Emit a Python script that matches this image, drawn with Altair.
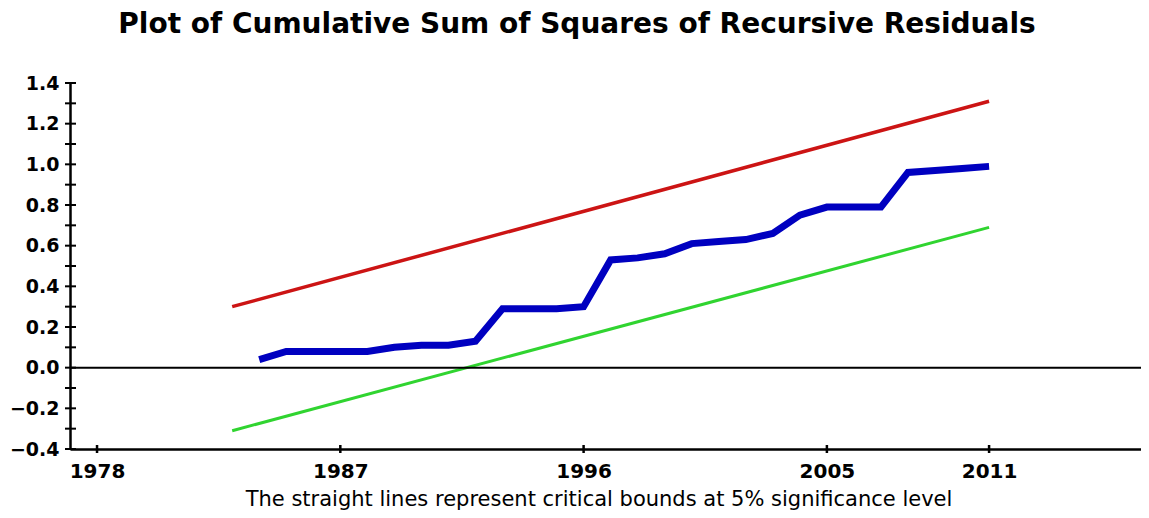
import altair as alt
import pandas as pd

# ---- data ----
blue_years = list(range(1984, 2012))
blue_values = [0.04, 0.08, 0.08, 0.08, 0.08, 0.10, 0.11, 0.11, 0.13, 0.29,
               0.29, 0.29, 0.30, 0.53, 0.54, 0.56, 0.61, 0.62, 0.63, 0.66,
               0.75, 0.79, 0.79, 0.79, 0.96, 0.97, 0.98, 0.99]
upper_years = [1983, 2011]
upper_values = [0.30, 1.31]
lower_years = [1983, 2011]
lower_values = [-0.31, 0.69]

x_tick_years = [1978, 1987, 1996, 2005, 2011]
y_label_values = [-0.4, -0.2, 0.0, 0.2, 0.4, 0.6, 0.8, 1.0, 1.2, 1.4]
y_tick_values = [-0.4, -0.3, -0.2, -0.1, 0.0, 0.1, 0.2, 0.3, 0.4, 0.5, 0.6,
                 0.7, 0.8, 0.9, 1.0, 1.1, 1.2, 1.3, 1.4]

title_text = "Plot of Cumulative Sum of Squares of Recursive Residuals"
footer_text = "The straight lines represent critical bounds at 5% significance level"

W, H = 1071, 366
FONT = "DejaVu Sans"

xscale = alt.Scale(domain=[1977, 2016.62], nice=False, zero=False)
yscale = alt.Scale(domain=[-0.4, 1.4], nice=False, zero=False)

blue_df = pd.DataFrame({"year": blue_years, "value": blue_values})
upper_df = pd.DataFrame({"year": upper_years, "value": upper_values})
lower_df = pd.DataFrame({"year": lower_years, "value": lower_values})

xaxis = alt.Axis(values=x_tick_years, format="d", grid=False, ticks=False, tickSize=0,
                 domainColor="black", domainWidth=2.5, labelFont=FONT,
                 labelFontWeight="bold", labelFontSize=20, labelColor="black",
                 labelPadding=12, title=None, labelFlush=False)
yaxis = alt.Axis(values=y_label_values, format=".1f", grid=False, ticks=False, tickSize=0,
                 domainColor="black", domainWidth=2.5, labelFont=FONT,
                 labelFontWeight="bold", labelFontSize=19, labelColor="black",
                 labelPadding=11, title=None, labelFlush=False)

upper = alt.Chart(upper_df).mark_line(color="#cc1414", strokeWidth=3.5).encode(
    x=alt.X("year:Q", scale=xscale, axis=xaxis),
    y=alt.Y("value:Q", scale=yscale, axis=yaxis),
)
lower = alt.Chart(lower_df).mark_line(color="#30d430", strokeWidth=3).encode(
    x=alt.X("year:Q", scale=xscale),
    y=alt.Y("value:Q", scale=yscale),
)
blue = alt.Chart(blue_df).mark_line(color="#0000c0", strokeWidth=7).encode(
    x=alt.X("year:Q", scale=xscale),
    y=alt.Y("value:Q", scale=yscale),
)

zero_line = alt.Chart(pd.DataFrame({"z": [0.0]})).mark_rule(color="black", strokeWidth=2).encode(
    y=alt.Y("z:Q", scale=yscale),
)

ytick = alt.Chart(pd.DataFrame({"value": y_tick_values})).mark_rule(color="black", strokeWidth=2).encode(
    y=alt.Y("value:Q", scale=yscale),
    x=alt.value(-5), x2=alt.value(6),
)
xtick = alt.Chart(pd.DataFrame({"year": x_tick_years})).mark_rule(color="black", strokeWidth=2.5).encode(
    x=alt.X("year:Q", scale=xscale),
    y=alt.value(H - 4), y2=alt.value(H + 4),
)

title = alt.Chart(pd.DataFrame({"t": [title_text]})).mark_text(
    font=FONT, fontWeight="bold", fontSize=28, color="black", align="center", baseline="alphabetic"
).encode(text="t:N", x=alt.value(507), y=alt.value(-50))

footer = alt.Chart(pd.DataFrame({"t": [footer_text]})).mark_text(
    font=FONT, fontSize=21, color="black", align="center", baseline="alphabetic"
).encode(text="t:N", x=alt.value(529), y=alt.value(423))

chart = alt.layer(upper, lower, blue, zero_line, ytick, xtick, title, footer).properties(
    width=W, height=H,
    autosize=alt.AutoSizeParams(type="none"),
    padding={"left": 62, "top": 75, "right": 0, "bottom": 61},
).configure_view(stroke=None)

chart.save("out.html", embed_options={"renderer": "svg", "actions": False})
